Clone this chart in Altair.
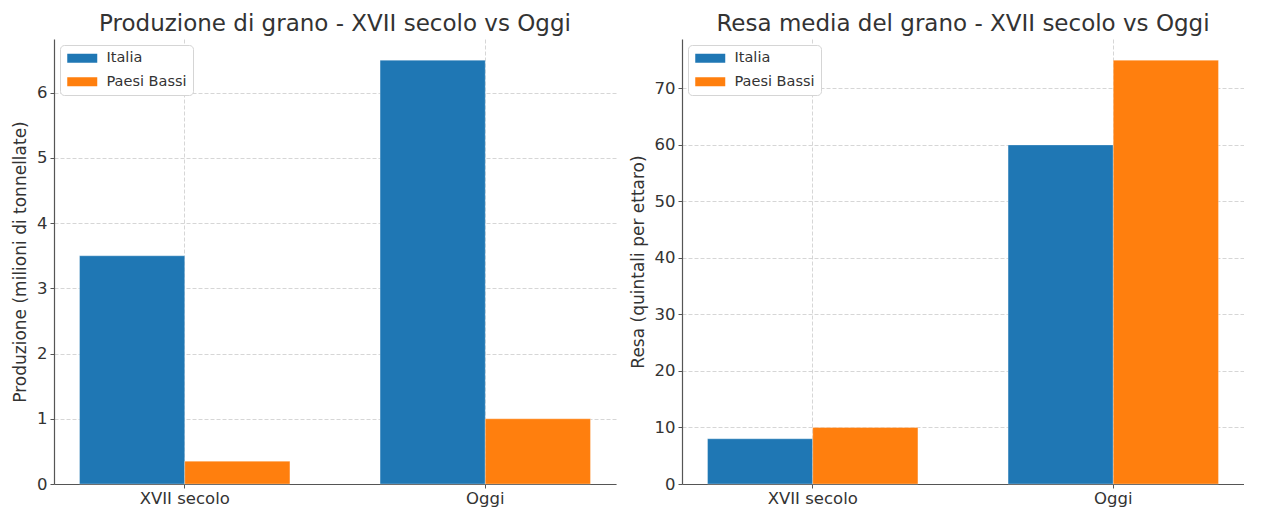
import altair as alt
import pandas as pd

periods = ["XVII secolo", "Oggi"]
countries = ["Italia", "Paesi Bassi"]
colors = ["#1f77b4", "#ff7f0e"]

produzione_italia = [3.5, 6.5]
produzione_paesi_bassi = [0.35, 1.0]
resa_italia = [8, 60]
resa_paesi_bassi = [10, 75]

prod_ticks = [0, 1, 2, 3, 4, 5, 6]
resa_ticks = [0, 10, 20, 30, 40, 50, 60, 70]


def long_df(it, nl):
    rows = []
    for p, a, b in zip(periods, it, nl):
        rows.append({"Periodo": p, "Paese": countries[0], "Valore": a})
        rows.append({"Periodo": p, "Paese": countries[1], "Valore": b})
    return pd.DataFrame(rows)


FONT = "DejaVu Sans"
TXT = "#333333"
# wide legend swatch (30x9 px at symbolSize 144)
SWATCH = "M-1,-0.75H4V0.75H-1Z"


def panel(df, title, ytitle, ymax, ticks):
    return (
        alt.Chart(df)
        .mark_bar(stroke="white", strokeWidth=0.5, strokeOpacity=0.6)
        .encode(
            x=alt.X(
                "Periodo:N",
                sort=periods,
                scale=alt.Scale(paddingInner=0.3, paddingOuter=0.085),
                axis=alt.Axis(
                    title=None,
                    labelAngle=0,
                    grid=True,
                    bandPosition=0.5,
                    labelFontSize=16.5,
                    labelPadding=2,
                ),
            ),
            xOffset=alt.XOffset(
                "Paese:N",
                sort=countries,
                scale=alt.Scale(paddingInner=0, paddingOuter=0),
            ),
            y=alt.Y(
                "Valore:Q",
                scale=alt.Scale(domain=[0, ymax], nice=False, zero=True),
                axis=alt.Axis(
                    values=ticks,
                    title=ytitle,
                    labelFontSize=16.5,
                    titleFontSize=17,
                    labelPadding=3,
                    titlePadding=7,
                ),
            ),
            color=alt.Color(
                "Paese:N",
                sort=countries,
                scale=alt.Scale(domain=countries, range=colors),
                legend=alt.Legend(
                    title=None,
                    orient="top-left",
                    offset=6,
                    padding=6,
                    symbolType=SWATCH,
                    symbolSize=144,
                    symbolStrokeWidth=0,
                    labelFontSize=14.5,
                    labelFont=FONT,
                    labelColor=TXT,
                    labelOffset=26,
                    rowPadding=8.5,
                    fillColor="white",
                    strokeColor="#d5d5d5",
                    cornerRadius=4,
                ),
            ),
        )
        .properties(
            width=562,
            height=445,
            title=alt.TitleParams(
                text=title,
                fontSize=23,
                font=FONT,
                fontWeight="normal",
                color=TXT,
                anchor="middle",
                offset=3,
            ),
        )
    )


left = panel(
    long_df(produzione_italia, produzione_paesi_bassi),
    "Produzione di grano - XVII secolo vs Oggi",
    "Produzione (milioni di tonnellate)",
    6.825,
    prod_ticks,
)
right = panel(
    long_df(resa_italia, resa_paesi_bassi),
    "Resa media del grano - XVII secolo vs Oggi",
    "Resa (quintali per ettaro)",
    78.75,
    resa_ticks,
)

chart = (
    alt.hconcat(left, right, spacing=13)
    .resolve_scale(color="independent")
    .resolve_legend(color="independent")
    .properties(padding={"left": 3, "top": 5, "right": 0, "bottom": 0})
    .configure_view(stroke=None)
    .configure_axis(
        labelFont=FONT,
        titleFont=FONT,
        labelColor=TXT,
        titleColor=TXT,
        titleFontWeight="normal",
        domainColor="#555555",
        domainWidth=1.2,
        tickColor="#555555",
        tickSize=4,
        gridColor="#cccccc",
        gridDash=[4, 2],
        gridWidth=0.8,
    )
)

chart.save("out.html", embed_options={"renderer": "svg", "actions": False})
